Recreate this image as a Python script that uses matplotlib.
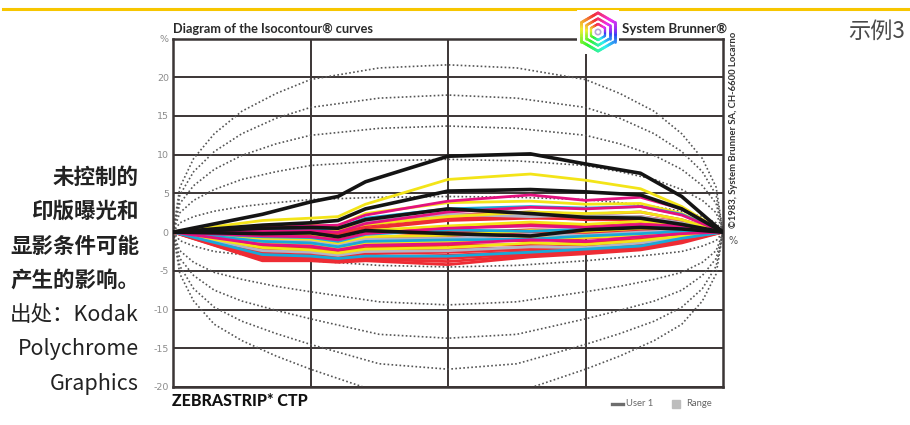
import colorsys

import matplotlib
matplotlib.use('Agg')
import matplotlib.pyplot as plt
import numpy as np
from matplotlib.collections import LineCollection
from matplotlib.patches import Rectangle

W, H = 910, 425

# 横向采样位置（0~4 四个区间）
xs = [0, 0.65, 1.0, 1.2, 1.4, 2.0, 2.6, 3.0, 3.4, 3.7, 4.0]

black_lines = [
    [0, 2.3, 3.9, 4.6, 6.5, 9.8, 10.1, 8.8, 7.6, 4.6, 0],
    [0, 0.9, 1.2, 1.5, 3.0, 5.3, 5.5, 5.2, 4.8, 3.0, 0],
    [0, 0.5, 0.6, 0.5, 1.6, 3.0, 2.4, 1.9, 1.8, 1.0, 0],
    [0, -0.2, -0.1, -0.6, 0.2, -0.2, -0.5, 0.3, 0.6, 0.4, 0],
]
yellow_lines = [
    [0, 1.5, 1.8, 2.0, 3.6, 6.8, 7.5, 6.7, 5.6, 3.3, 0],
    [0, 0.6, 0.9, 0.8, 2.4, 3.8, 4.0, 3.6, 3.7, 2.4, 0],
    [0, 0.2, 0.4, 0.3, 1.0, 2.0, 2.6, 2.4, 2.6, 1.6, 0],
    [0, -0.3, -0.2, -0.8, 0.2, 0.8, 1.3, 1.0, 1.4, 1.0, 0],
    [0, -0.8, -0.9, -1.4, -0.6, -0.4, 0.2, 0.1, 0.5, 0.5, 0],
    [0, -1.3, -1.6, -2.1, -1.4, -1.3, -0.8, -0.7, -0.4, 0.0, 0],
    [0, -2.0, -2.3, -2.7, -2.2, -2.0, -1.4, -1.6, -1.1, -0.5, 0],
]
magenta_lines = [
    [0, 0.6, 0.8, 0.9, 2.2, 4.0, 4.8, 4.1, 4.5, 3.0, 0],
    [0, 0.1, 0.2, 0.0, 1.1, 2.6, 3.2, 3.0, 3.3, 2.2, 0],
    [0, -0.5, -0.6, -1.0, -0.2, 0.5, 0.8, 0.6, 1.0, 0.8, 0],
    [0, -1.6, -1.8, -2.3, -1.7, -1.5, -1.0, -1.2, -0.6, -0.2, 0],
]
cyan_lines = [
    [0, 0.2, 0.4, 0.5, 1.8, 3.0, 3.3, 3.1, 3.3, 2.3, 0],
    [0, -0.6, -0.7, -1.2, -0.3, 0.3, 0.1, 0.4, 0.8, 0.6, 0],
    [0, -1.2, -1.4, -1.9, -1.2, -1.0, -0.9, -0.5, -0.2, 0.1, 0],
    [0, -2.9, -3.1, -3.4, -3.1, -3.1, -2.6, -2.2, -1.8, -0.8, 0],
]
gray_lines = [
    [0, 0.4, 0.6, 0.3, 1.4, 2.3, 2.0, 2.2, 2.0, 1.2, 0],
    [0, -1.0, -1.1, -1.6, -0.9, -0.8, -0.3, -0.4, 0.0, 0.2, 0],
    [0, -2.4, -2.6, -3.0, -2.5, -2.4, -1.9, -2.0, -1.4, -0.7, 0],
]
red_lines = [
    [0, 0.0, 0.1, -0.2, 0.8, 2.2, 2.6, 2.3, 2.6, 1.6, 0],
    [0, -0.2, -0.3, -0.5, 0.5, 1.8, 2.0, 1.6, 1.6, 1.0, 0],
    [0, -0.4, -0.4, -0.7, 0.4, 1.5, 1.8, 1.7, 2.0, 1.3, 0],
    [0, -0.7, -0.8, -1.2, -0.2, 0.6, 1.0, 0.9, 1.3, 0.9, 0],
    [0, -1.0, -1.2, -1.6, -0.8, -0.1, 0.3, 0.2, 0.6, 0.5, 0],
    [0, -1.2, -1.4, -1.8, -1.0, -0.4, -0.1, -0.1, 0.3, 0.4, 0],
    [0, -1.4, -1.6, -1.9, -1.2, -0.7, -0.4, -0.3, 0.2, 0.3, 0],
    [0, -1.8, -2.0, -2.2, -1.6, -1.1, -1.1, -0.8, -0.4, 0.0, 0],
    [0, -2.1, -2.3, -2.5, -2.0, -1.7, -1.6, -1.4, -0.9, -0.3, 0],
    [0, -2.4, -2.7, -2.9, -2.4, -2.2, -2.0, -1.7, -1.2, -0.5, 0],
    [0, -2.7, -3.0, -3.2, -2.8, -2.6, -2.2, -2.0, -1.5, -0.6, 0],
    [0, -3.1, -3.3, -3.5, -3.2, -3.0, -2.5, -2.3, -1.7, -0.8, 0],
    [0, -3.3, -3.5, -3.6, -3.4, -3.4, -2.8, -2.5, -1.9, -1.0, 0],
    [0, -3.6, -3.6, -3.8, -3.5, -3.8, -3.0, -2.7, -2.1, -1.2, 0],
    [0, -3.7, -3.7, -3.9, -3.7, -4.2, -3.2, -2.8, -2.3, -1.4, 0],
]

# 等值曲线（虚线）
iso_x = [0, 0.05, 0.15, 0.3, 0.5, 0.75, 1.0, 1.5, 2.0, 2.5, 3.0, 3.25, 3.5, 3.7, 3.85, 3.95, 4.0]
iso_upper = [
    [0, 1.2, 2.0, 2.7, 3.3, 3.8, 4.2, 4.5, 4.6, 4.5, 4.2, 3.8, 3.3, 2.7, 2.0, 1.2, 0],
    [0, 2.5, 4.1, 5.5, 6.8, 7.8, 8.6, 9.2, 9.4, 9.2, 8.6, 7.8, 6.8, 5.5, 4.1, 2.5, 0],
    [0, 3.7, 6.0, 8.1, 9.9, 11.4, 12.5, 13.4, 13.7, 13.4, 12.5, 11.4, 9.9, 8.1, 6.0, 3.7, 0],
    [0, 4.8, 7.8, 10.4, 12.7, 14.7, 16.1, 17.3, 17.7, 17.3, 16.1, 14.7, 12.7, 10.4, 7.8, 4.8, 0],
    [0, 5.8, 9.5, 12.7, 15.6, 17.9, 19.7, 21.2, 21.6, 21.2, 19.7, 17.9, 15.6, 12.7, 9.5, 5.8, 0],
]
iso_lower = [
    [0, -1.1, -1.8, -2.5, -2.9, -3.3, -3.7, -4.3, -4.5, -4.3, -3.7, -3.3, -2.9, -2.5, -1.8, -1.1, 0],
    [0, -2.4, -3.9, -5.2, -6.1, -7.0, -7.7, -9.0, -9.4, -9.0, -7.7, -7.0, -6.1, -5.2, -3.9, -2.4, 0],
    [0, -3.4, -5.6, -7.5, -8.9, -10.1, -11.2, -13.2, -13.7, -13.2, -11.2, -10.1, -8.9, -7.5, -5.6, -3.4, 0],
    [0, -4.4, -7.3, -9.7, -11.5, -13.1, -14.5, -17.0, -17.7, -17.0, -14.5, -13.1, -11.5, -9.7, -7.3, -4.4, 0],
    [0, -5.4, -8.9, -11.9, -14.0, -16.0, -17.7, -20.7, -21.6, -20.7, -17.7, -16.0, -14.0, -11.9, -8.9, -5.4, 0],
]

y_ticks = [-20, -15, -10, -5, 0, 5, 10, 15, 20, 25]
y_tick_labels = ['-20', '-15', '-10', '-5', '0', '5', '10', '15', '20', '%']

side_lines = ['未控制的', '印版曝光和', '显影条件可能', '产生的影响。', '出处：Kodak', 'Polychrome', 'Graphics']
side_bold = [True, True, True, True, False, False, False]

colors = {
    'red': '#ee2c34',
    'yellow': '#f3e418',
    'magenta': '#e4117f',
    'cyan': '#19a9d9',
    'gray': '#b4b4c6',
    'black': '#141414',
}
frame_color = '#3b3535'
cjk = ['Noto Sans CJK SC', 'DejaVu Sans']


def px(x, y):
    return x / W, 1 - y / H


fig = plt.figure(figsize=(W / 100, H / 100), dpi=100)
fig.patch.set_facecolor('white')

ax = fig.add_axes([173 / W, 1 - 387 / H, 550 / W, 348.5 / H])
ax.set_xlim(0, 4)
ax.set_ylim(-20, 25)
ax.set_xticks([1, 2, 3])
ax.set_xticklabels([])
ax.set_yticks(y_ticks)
ax.set_yticklabels(y_tick_labels, family='DejaVu Sans')
ax.tick_params(length=0, pad=3, labelsize=6.8, labelcolor='#8c8c8c')
ax.grid(True, color=frame_color, linewidth=1.4)
ax.set_axisbelow(True)
for s in ax.spines.values():
    s.set_color(frame_color)
    s.set_linewidth(1.8)

for ys in iso_upper + iso_lower:
    ax.plot(iso_x, ys, color='#555555', linewidth=1.2, linestyle=(0, (1, 1.4)), zorder=2)

for key, group, lw in [('red', red_lines, 2.0), ('gray', gray_lines, 2.0), ('yellow', yellow_lines, 2.0),
                       ('cyan', cyan_lines, 2.0), ('magenta', magenta_lines, 2.0), ('black', black_lines, 2.6)]:
    for ys in group:
        ax.plot(xs, ys, color=colors[key], linewidth=lw, solid_joinstyle='round', zorder=3)

# 顶部黄色分隔线
fig.add_artist(plt.Line2D([3 / W, 1], [1 - 8.5 / H, 1 - 8.5 / H], color='#f7c600', linewidth=2.2))

fig.text(*px(905, 31), '示例3', ha='right', va='center', fontsize=16, color='#4a4a4a', family=cjk)

fig.text(*px(173, 29), 'Diagram of the Isocontour® curves', ha='left', va='center',
         fontsize=9.2, fontweight='bold', color='#2a2a2a', family='Lato')
fig.text(*px(622, 29), 'System Brunner®', ha='left', va='center',
         fontsize=9.5, fontweight='bold', color='#2a2a2a', family='Lato')
fig.text(*px(733, 130), '©1983, System Brunner SA, CH-6600 Locarno', ha='center', va='center',
         rotation=90, fontsize=6.8, color='#333333', family='Lato', fontweight='bold')
fig.text(*px(733, 241), '%', ha='center', va='center', fontsize=7, color='#555555')

fig.text(*px(172, 401), 'ZEBRASTRIP* CTP', ha='left', va='center',
         fontsize=11.5, fontweight='black', color='#111111', family='Lato')

# 图例
fig.add_artist(plt.Line2D([612 / W, 623 / W], [1 - 404 / H] * 2, color='#6d6d6d', linewidth=2.4))
fig.text(*px(626, 404), 'User 1', ha='left', va='center', fontsize=6.8, color='#666666', family='Lato')
fig.add_artist(Rectangle(px(672, 408), 8 / W, 8 / H, transform=fig.transFigure, color='#bdbdbd'))
fig.text(*px(686, 404), 'Range', ha='left', va='center', fontsize=6.8, color='#666666', family='Lato')

# 左侧说明文字
for i, (line, bold) in enumerate(zip(side_lines, side_bold)):
    fig.text(*px(139, 177 + i * 34.5), line, ha='right', va='center', fontsize=15.5,
             fontweight='bold' if bold else 'normal', color='#222222', family=cjk)

# 六边形标志
logo = fig.add_axes([577 / W, 1 - 54 / H, 42 / W, 44 / H], zorder=5)
logo.set_xlim(-1.1, 1.1)
logo.set_ylim(-1.15, 1.15)
logo.axis('off')
logo.add_patch(Rectangle((-1.1, -1.15), 2.2, 2.3, color='white', zorder=0))
for r, lw in [(1.0, 2.0), (0.7, 1.8), (0.42, 1.6)]:
    ang = np.deg2rad(np.linspace(90, 450, 7))
    vx, vy = r * np.cos(ang), r * np.sin(ang)
    segs, cols = [], []
    for k in range(6):
        for t0 in np.linspace(0, 1, 12, endpoint=False):
            t1 = t0 + 1 / 12
            p0 = (vx[k] + (vx[k + 1] - vx[k]) * t0, vy[k] + (vy[k + 1] - vy[k]) * t0)
            p1 = (vx[k] + (vx[k + 1] - vx[k]) * t1, vy[k] + (vy[k + 1] - vy[k]) * t1)
            a = np.degrees(np.arctan2((p0[1] + p1[1]) / 2, (p0[0] + p1[0]) / 2)) % 360
            hue = (0.95 + (a - 90) / 380) % 1.0
            segs.append([p0, p1])
            cols.append(colorsys.hsv_to_rgb(hue, 0.8, 0.95))
    logo.add_collection(LineCollection(segs, colors=cols, linewidths=lw, capstyle='round'))
logo.add_patch(plt.Circle((0, 0), 0.14, fill=False, edgecolor='#b9a8d8', linewidth=1.2))

fig.savefig('out.png', dpi=100)
